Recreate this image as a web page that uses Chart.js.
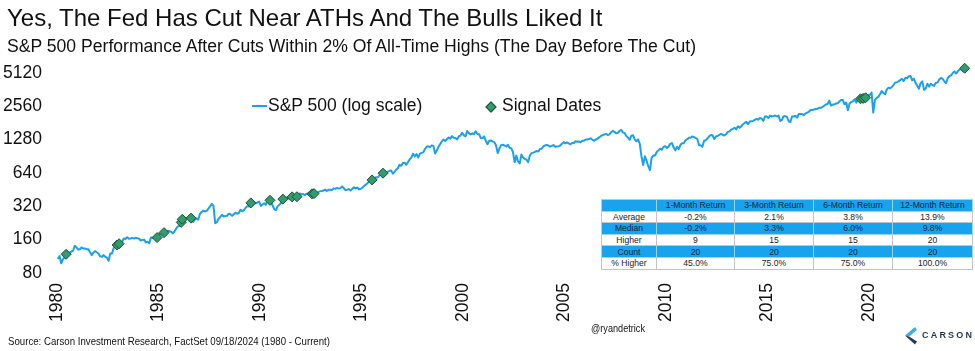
<!DOCTYPE html>
<html><head><meta charset="utf-8">
<script src="https://cdn.jsdelivr.net/npm/chart.js@4.4.1/dist/chart.umd.min.js"></script>
<style>
html,body{margin:0;padding:0;background:#fff;}
#wrap{position:relative;width:975px;height:351px;overflow:hidden;font-family:"Liberation Sans",Arial,sans-serif;color:#111;}
#c{position:absolute;left:0;top:0;}
.abs{position:absolute;white-space:nowrap;line-height:1;}
#title{left:7px;top:5.5px;font-size:24px;}
#sub{left:7px;top:38px;font-size:17.6px;}
.leg{font-size:17.5px;top:97px;}
#legLine{position:absolute;left:252px;top:105px;width:15px;height:2px;background:#1ba1ec;}
#legDia{position:absolute;left:487px;top:103px;width:6px;height:6px;background:#2f9e6b;border:1px solid #1e4f36;transform:rotate(45deg);}
#src{left:8px;top:336px;font-size:10.5px;transform-origin:0 0;}
#handle{left:591px;top:323px;font-size:10.5px;transform-origin:0 0;}
#carson{left:922px;top:331px;font-size:9px;font-weight:bold;letter-spacing:2.2px;color:#1f3650;}
#tbl{position:absolute;left:601px;top:199px;width:371px;border-collapse:collapse;table-layout:fixed;font-size:8.6px;background:#fff;}
#tbl td{height:10.6px;padding:0;text-align:center;border:1px solid #c4c4c4;line-height:10px;color:#222;}
#tbl tr.b td{background:#17a3ee;border-color:#9fd3f3;color:#10243a;}
</style></head>
<body><div id="wrap">
<canvas id="c" width="975" height="351"></canvas>
<div class="abs" id="title">Yes, The Fed Has Cut Near ATHs And The Bulls Liked It</div>
<div class="abs" id="sub">S&amp;P 500 Performance After Cuts Within 2% Of All-Time Highs (The Day Before The Cut)</div>
<div id="legLine"></div>
<div class="abs leg" style="left:268px;">S&amp;P 500 (log scale)</div>
<div id="legDia"></div>
<div class="abs leg" style="left:502px;">Signal Dates</div>
<table id="tbl"></table>
<div class="abs" id="src">Source: Carson Investment Research, FactSet 09/18/2024 (1980 - Current)</div>
<div class="abs" id="handle">@ryandetrick</div>
<svg style="position:absolute;left:903px;top:326px" width="16" height="20" viewBox="0 0 16 20">
<polygon points="12,1 2,9.5 6,10.5 14,4" fill="#3aaee6"/>
<polygon points="2,9.5 12,18.5 14,15.5 6,10.5" fill="#1f3a5f"/>
</svg>
<div class="abs" id="carson">CARSON</div>
</div>
<script>
// Monthly S&P 500 levels, one array per decade
const spx1980s = [
107,114,98,106,111,114,122,122,125,127,141,136,
130,131,136,133,133,131,131,123,116,122,126,123,
120,113,112,116,112,110,103,120,120,134,139,141,
145,148,153,164,162,168,163,164,166,164,166,165,
163,157,159,160,151,153,148,167,166,166,164,167,
180,181,181,180,190,192,191,188,182,190,202,211,
212,227,238,236,247,251,236,253,231,244,249,242,
274,284,292,288,290,304,319,336,322,225,230,247,
257,268,259,261,262,274,272,262,272,279,274,278,
297,289,295,310,321,318,346,351,349,340,346,353];
const spx1990s = [
322,332,340,331,361,358,356,323,300,296,322,330,
344,367,375,375,390,371,388,395,388,392,375,417,
409,412,404,415,415,408,424,414,418,419,431,436,
439,443,452,440,450,451,448,464,459,468,462,466,
482,467,446,451,457,444,458,475,463,472,454,459,
470,487,501,515,533,545,562,562,584,582,605,616,
636,640,646,654,669,671,630,652,687,705,757,741,
786,791,757,801,848,885,954,899,947,880,955,970,
980,1049,1102,1112,1091,1134,1121,957,1017,1099,1164,1229,
1280,1238,1286,1335,1302,1373,1329,1320,1283,1363,1389,1469];
const spx2000s = [
1394,1366,1527,1452,1421,1455,1431,1518,1437,1429,1315,1320,
1366,1240,1160,1249,1256,1224,1211,1134,966,1060,1139,1148,
1130,1107,1147,1077,1067,990,800,916,815,777,936,880,
856,841,800,917,964,975,990,1008,996,1051,1058,1112,
1131,1145,1126,1107,1121,1141,1102,1104,1115,1130,1174,1212,
1181,1204,1181,1157,1192,1191,1234,1220,1229,1207,1249,1248,
1280,1281,1295,1311,1270,1250,1277,1304,1336,1378,1401,1418,
1438,1407,1421,1482,1531,1503,1455,1474,1527,1565,1481,1468,
1379,1331,1273,1386,1400,1280,1234,1283,1165,900,752,903,
826,735,677,873,919,919,987,1021,1057,1036,1096,1115];
const spx2010s = [
1074,1104,1169,1187,1089,1022,1102,1049,1141,1183,1181,1258,
1286,1327,1326,1364,1345,1321,1292,1140,1131,1099,1247,1258,
1312,1366,1408,1398,1290,1362,1379,1407,1441,1412,1390,1426,
1498,1515,1569,1598,1631,1580,1686,1633,1682,1757,1806,1848,
1760,1859,1872,1884,1924,1960,1931,2003,1972,1880,2068,2059,
1995,2105,2068,2086,2107,2063,2104,1880,1920,2079,2080,2044,
1870,1840,2060,2065,2097,2020,2174,2171,2168,2126,2199,2239,
2279,2364,2363,2384,2412,2423,2470,2472,2519,2575,2648,2674,
2873,2590,2641,2648,2705,2718,2816,2902,2914,2660,2760,2351,
2704,2784,2834,2946,2752,2942,3020,2860,2977,3038,3141,3231];
const spx2020s = [
3226,3386,2237,2912,3044,3100,3271,3500,3363,3270,3622,3756,
3714,3811,3973,4181,4204,4298,4395,4523,4308,4605,4567,4766,
4796,4374,4530,4132,3900,3667,4130,4280,3586,3690,4080,3840,
4077,3970,3900,4169,4180,4450,4589,4508,4288,4117,4568,4770,
4846,5096,5254,5036,5278,5460,5522,5300,5618];

// Signal dates (decimal year) and S&P 500 level the day before the cut
const signalDates  = [1980.45,1982.96,1983.06,1984.93,1985.27,1986.12,1986.17,1986.60,1989.55,1990.49,1991.13,1991.58,1991.82,1992.56,1992.66,1995.52,1996.06,2019.58,2019.71,2019.83,2024.71];
const signalValues = [118,143,147,167,185,229,244,250,343,362,371,389,390,414,416,553,636,2980,3006,3047,5618];

const yTickValues = [80,160,320,640,1280,2560,5120];
const xTickYears  = [1980,1985,1990,1995,2000,2005,2010,2015,2020];

// Table
const colHeaders = ['', '1-Month Return', '3-Month Return', '6-Month Return', '12-Month Return'];
const rowLabels  = ['Average', 'Median', 'Higher', 'Count', '% Higher'];
const ret1m  = ['-0.2%', '-0.2%', '9', '20', '45.0%'];
const ret3m  = ['2.1%', '3.3%', '15', '20', '75.0%'];
const ret6m  = ['3.8%', '6.0%', '15', '20', '75.0%'];
const ret12m = ['13.9%', '9.8%', '20', '20', '100.0%'];

(function buildTable(){
  const t = document.getElementById('tbl');
  const widths = [55, 78, 79, 79, 80];
  let html = '<colgroup>' + widths.map(w => '<col style="width:' + w + 'px">').join('') + '</colgroup>';
  html += '<tr class="b">' + colHeaders.map(h => '<td>' + h + '</td>').join('') + '</tr>';
  rowLabels.forEach((r, i) => {
    const cls = (i % 2 === 1) ? ' class="b"' : '';
    html += '<tr' + cls + '><td>' + r + '</td><td>' + ret1m[i] + '</td><td>' + ret3m[i] + '</td><td>' + ret6m[i] + '</td><td>' + ret12m[i] + '</td></tr>';
  });
  t.innerHTML = html;
})();

function fitWidth(id, target){
  const el = document.getElementById(id);
  const w = el.getBoundingClientRect().width;
  el.style.transform = 'scaleX(' + (target / w) + ')';
}
fitWidth('src', 322);
fitWidth('handle', 54);

const allMonthly = [].concat(spx1980s, spx1990s, spx2000s, spx2010s, spx2020s);
const lineData = allMonthly.map((v, i) => ({x: 1980 + (i + 0.5) / 12, y: v}));
const signalData = signalDates.map((d, i) => ({x: d, y: signalValues[i]}));

const tickFont = {family: '"Liberation Sans", Arial, sans-serif', size: 17.5};

new Chart(document.getElementById('c').getContext('2d'), {
  type: 'line',
  data: {
    datasets: [
      {label: 'Signal Dates', data: signalData, showLine: false, pointStyle: 'rectRot', pointRadius: 5, backgroundColor: '#2f9e6b', borderColor: '#1e4f36', borderWidth: 1, order: 0, clip: false},
      {label: 'S&P 500 (log scale)', data: lineData, borderColor: '#1ba1ec', borderWidth: 2, pointRadius: 0, tension: 0, order: 1, borderJoinStyle: 'round'}
    ]
  },
  options: {
    responsive: false, animation: false, events: [],
    layout: {padding: {top: 62, right: 6.5, left: 0, bottom: 0}},
    plugins: {legend: {display: false}, tooltip: {enabled: false}, title: {display: false}},
    scales: {
      x: {
        type: 'linear', min: 1980, max: 2024.9,
        grid: {display: false, drawTicks: false}, border: {display: false},
        afterBuildTicks: s => { s.ticks = xTickYears.map(v => ({value: v})); },
        afterFit: s => { s.height = 78; },
        ticks: {minRotation: 90, maxRotation: 90, autoSkip: false, padding: 10, color: '#111', font: tickFont, callback: v => String(v)}
      },
      y: {
        type: 'logarithmic', min: 80, max: 6400,
        grid: {display: false, drawTicks: false}, border: {display: false},
        afterBuildTicks: s => { s.ticks = yTickValues.map(v => ({value: v})); },
        afterFit: s => { s.width = 57; },
        ticks: {padding: 15, color: '#111', font: tickFont, callback: v => String(v)}
      }
    }
  }
});
</script>
</body></html>
